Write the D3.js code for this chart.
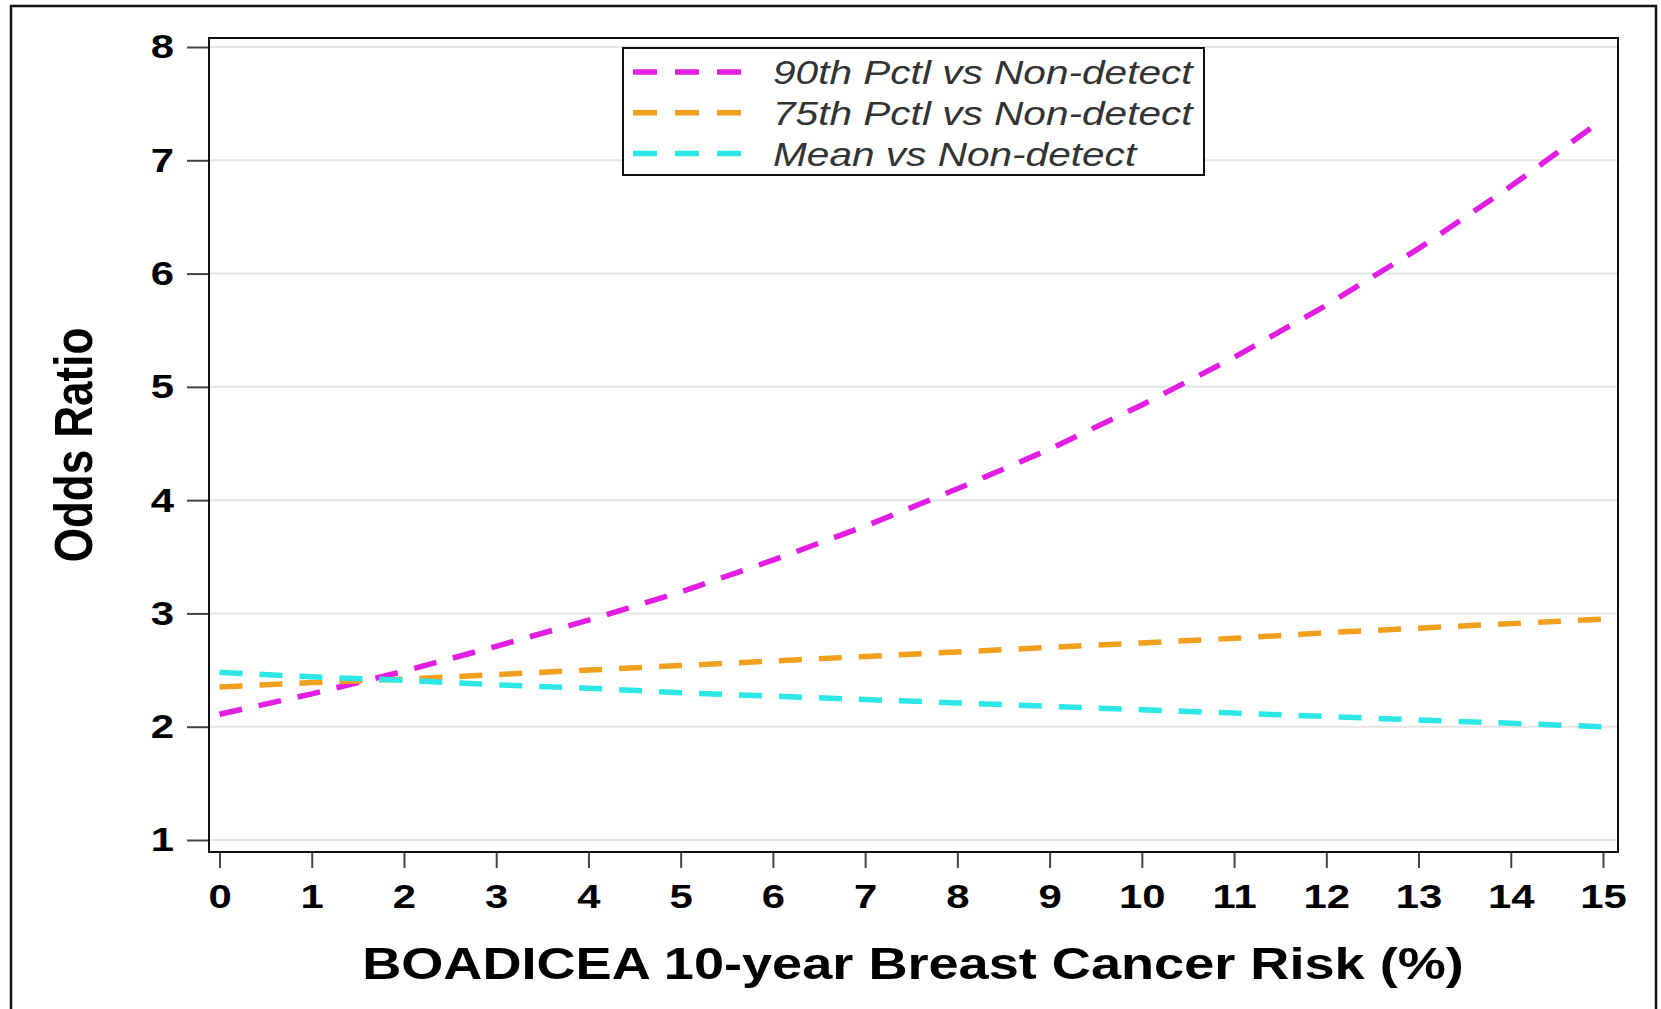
<!DOCTYPE html>
<html>
<head>
<meta charset="utf-8">
<script type="text/javascript" src="https://cdn.jsdelivr.net/npm/d3@7"></script>
<style>
  body { margin: 0; background: #fff; }
  text { font-family: "Liberation Sans", Arial, sans-serif; }
</style>
</head>
<body>
<script type="text/javascript">
// risk values on the x axis (%)
var risk = [0, 1, 2, 3, 4, 5, 6, 7, 8, 9, 10, 11, 12, 13, 14, 15];
// odds ratios
var or90 = [2.11, 2.29, 2.49, 2.71, 2.94, 3.19, 3.47, 3.77, 4.10, 4.45, 4.84, 5.26, 5.72, 6.22, 6.77, 7.36];
var or75 = [2.35, 2.39, 2.42, 2.46, 2.50, 2.54, 2.58, 2.62, 2.66, 2.70, 2.74, 2.78, 2.83, 2.87, 2.91, 2.95];
var orMean = [2.48, 2.44, 2.41, 2.37, 2.34, 2.30, 2.27, 2.24, 2.21, 2.18, 2.15, 2.12, 2.09, 2.06, 2.03, 2.00];
var seriesNames = ["90th Pctl vs Non-detect", "75th Pctl vs Non-detect", "Mean vs Non-detect"];
var seriesColors = ["#e31ee3", "#f0a01e", "#2de6e6"];
var yTicks = [1, 2, 3, 4, 5, 6, 7, 8];
var xTicks = [0, 1, 2, 3, 4, 5, 6, 7, 8, 9, 10, 11, 12, 13, 14, 15];

var w = 1661, h = 1009;
var frame = { left: 209, top: 38, right: 1618, bottom: 852 };
var sx = 1.23; // the picture is a bit wider than tall text would be

var svg = d3.select("body").append("svg")
  .attr("width", w)
  .attr("height", h);

// outer border
svg.append("rect")
  .attr("x", 11).attr("y", 6)
  .attr("width", 1645).attr("height", 1012)
  .attr("fill", "none")
  .attr("stroke", "#111")
  .attr("stroke-width", 2.5);

var xScale = d3.scaleLinear().domain([0, 15]).range([219.5, 1603]);
var yScale = d3.scaleLinear().domain([1, 8]).range([840, 47]);

// grid lines
svg.append("g").selectAll("line")
  .data(yTicks)
  .enter()
  .append("line")
  .attr("x1", frame.left + 1)
  .attr("x2", frame.right - 1)
  .attr("y1", function (d) { return yScale(d); })
  .attr("y2", function (d) { return yScale(d); })
  .attr("stroke", "#e4e4e4")
  .attr("stroke-width", 2);

// lines
var series = [or90, or75, orMean];
var line = d3.line()
  .x(function (d, i) { return xScale(risk[i]); })
  .y(function (d) { return yScale(d); });

svg.append("g").selectAll("path")
  .data(series)
  .enter()
  .append("path")
  .attr("d", line)
  .attr("fill", "none")
  .attr("stroke", function (d, i) { return seriesColors[i]; })
  .attr("stroke-width", 5.5)
  .attr("stroke-dasharray", "23,17");

// plot frame
svg.append("rect")
  .attr("x", frame.left).attr("y", frame.top)
  .attr("width", frame.right - frame.left)
  .attr("height", frame.bottom - frame.top)
  .attr("fill", "none")
  .attr("stroke", "#111")
  .attr("stroke-width", 2);

// y axis
var yAxis = d3.axisLeft(yScale).tickValues(yTicks).tickSize(21).tickPadding(13).tickFormat(d3.format("d"));
var gy = svg.append("g")
  .attr("transform", "translate(" + (frame.left - 1) + ",0)")
  .call(yAxis);
gy.select(".domain").remove();
gy.selectAll(".tick line").attr("stroke", "#444").attr("stroke-width", 2);
gy.selectAll(".tick text")
  .attr("font-size", 34)
  .attr("font-weight", "bold")
  .attr("fill", "#000")
  .attr("x", -34 / sx)
  .attr("transform", "scale(" + sx + ",1)");

// x axis
var xAxis = d3.axisBottom(xScale).tickValues(xTicks).tickSize(15).tickPadding(16).tickFormat(d3.format("d"));
var gx = svg.append("g")
  .attr("transform", "translate(0," + (frame.bottom + 1) + ")")
  .call(xAxis);
gx.select(".domain").remove();
gx.selectAll(".tick line").attr("stroke", "#444").attr("stroke-width", 2);
gx.selectAll(".tick text")
  .attr("font-size", 34)
  .attr("font-weight", "bold")
  .attr("fill", "#000")
  .attr("transform", "scale(" + sx + ",1)");

// axis titles
svg.append("text")
  .attr("transform", "translate(913,979) scale(" + sx + ",1)")
  .attr("text-anchor", "middle")
  .attr("font-size", 44)
  .attr("font-weight", "bold")
  .attr("fill", "#000")
  .text("BOADICEA 10-year Breast Cancer Risk (%)");

svg.append("text")
  .attr("transform", "translate(92,445) scale(" + sx + ",1) rotate(-90)")
  .attr("text-anchor", "middle")
  .attr("font-size", 44)
  .attr("font-weight", "bold")
  .attr("fill", "#000")
  .text("Odds Ratio");

// legend
var legend = svg.append("g");
legend.append("rect")
  .attr("x", 623).attr("y", 48)
  .attr("width", 581).attr("height", 127)
  .attr("fill", "#fff")
  .attr("stroke", "#111")
  .attr("stroke-width", 2);

var rows = legend.selectAll("g.row")
  .data(seriesNames)
  .enter()
  .append("g")
  .attr("class", "row")
  .attr("transform", function (d, i) { return "translate(0," + (72 + i * 40.8) + ")"; });

rows.append("line")
  .attr("x1", 633).attr("x2", 741)
  .attr("y1", 0).attr("y2", 0)
  .attr("stroke", function (d, i) { return seriesColors[i]; })
  .attr("stroke-width", 5.5)
  .attr("stroke-dasharray", "24,18");

rows.append("text")
  .attr("transform", "translate(773,12) scale(" + sx + ",1)")
  .attr("font-size", 33)
  .attr("font-style", "italic")
  .attr("fill", "#333")
  .text(function (d) { return d; });
</script>
</body>
</html>
